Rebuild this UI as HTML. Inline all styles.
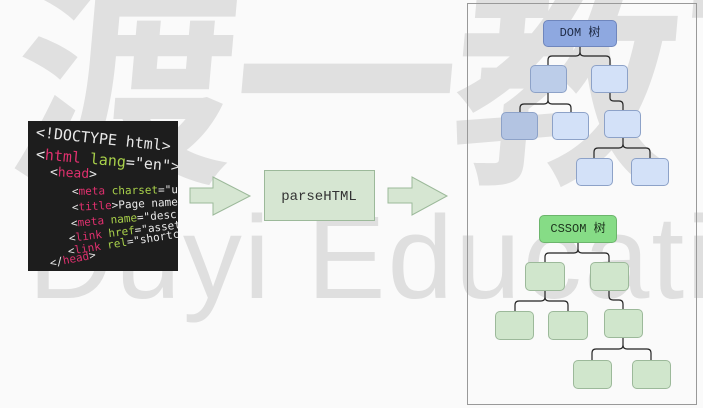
<!DOCTYPE html>
<html><head><meta charset="utf-8"><style>
body{margin:0;width:703px;height:408px;background:#fafafa;position:relative;overflow:hidden;font-family:"Liberation Mono",monospace}
.wm{position:absolute;color:#e0e0e0;font-family:"Liberation Sans","Noto Sans CJK SC",sans-serif;font-weight:bold;white-space:nowrap}
.n{position:absolute;border-radius:5px;box-sizing:border-box}
.b{background:#d3e1f8;border:1px solid #8da2c8}
.g{background:#d0e6cc;border:1px solid #9cb99a}
.code{position:absolute;left:28px;top:121px;width:150px;height:150px;background:#1d1d1d;overflow:hidden;font-family:"DejaVu Sans Mono",monospace}
.code div{position:absolute;white-space:nowrap;transform-origin:left center}
.p{color:#e8e8e8}.r{color:#e0306e}.y{color:#a8d04a}
</style></head><body>
<div style="position:absolute;left:0;top:0;width:703px;height:408px;overflow:hidden">
<div class="wm" style="left:15px;top:-95px;font-size:225px;letter-spacing:-5px;transform:skewX(-5deg)">渡一教育</div>
<div class="wm" style="left:28px;top:190px;font-size:118px;font-weight:normal;color:#dfdfdf;letter-spacing:2px">Duyi Education</div>
</div>

<div class="code">
<div style="left:8px;top:2px;font-size:15px;transform:rotate(6deg)" class="p">&lt;!DOCTYPE html&gt;</div>
<div style="left:8px;top:24px;font-size:15px;transform:rotate(5deg)"><span class="p">&lt;</span><span class="r">html</span> <span class="y">lang</span><span class="p">="en"&gt;</span></div>
<div style="left:22px;top:44px;font-size:13px;transform:rotate(3deg)"><span class="p">&lt;</span><span class="r">head</span><span class="p">&gt;</span></div>
<div style="left:44px;top:64px;font-size:11px;transform:rotate(-1deg)"><span class="p">&lt;</span><span class="r">meta</span> <span class="y">charset</span><span class="p">="utf-8"</span></div>
<div style="left:44px;top:80px;font-size:11px;transform:rotate(-3deg)"><span class="p">&lt;</span><span class="r">title</span><span class="p">&gt;Page name&lt;/</span></div>
<div style="left:43px;top:96px;font-size:11px;transform:rotate(-5deg)"><span class="p">&lt;</span><span class="r">meta</span> <span class="y">name</span><span class="p">="description"</span></div>
<div style="left:41px;top:111px;font-size:11px;transform:rotate(-7deg)"><span class="p">&lt;</span><span class="r">link</span> <span class="y">href</span><span class="p">="assets/</span></div>
<div style="left:40px;top:124px;font-size:11px;transform:rotate(-9deg)"><span class="p">&lt;</span><span class="r">link</span> <span class="y">rel</span><span class="p">="shortcut</span></div>
<div style="left:22px;top:136px;font-size:11px;transform:rotate(-11deg)"><span class="p">&lt;/</span><span class="r">head</span><span class="p">&gt;</span></div>
</div>

<svg width="703" height="408" style="position:absolute;left:0;top:0">
<polygon points="190,188 213,188 213,177 250,196 213,215 213,203 190,203" fill="#d6e6d2" stroke="#9cb99a"/>
<polygon points="388,188 412,188 412,177 447,196 412,215 412,203 388,203" fill="#d6e6d2" stroke="#9cb99a"/>
<rect x="264.5" y="170.5" width="110" height="50" fill="#d6e6d2" stroke="#9cb99a"/>
<text x="319" y="200" font-family="Liberation Mono,monospace" font-size="14" fill="#333" text-anchor="middle">parseHTML</text>
<rect x="467.5" y="3.5" width="229" height="401" fill="none" stroke="#999"/>
<g fill="none" stroke="#222" stroke-width="1.2">
<path d="M580,47 V52 Q580,56 576,56 H552 Q548,56 548,60 V65 M580,52 Q580,56 584,56 H606 Q610,56 610,60 V65"/>
<path d="M548,93 V100 Q548,104 544,104 H524 Q520,104 520,108 V112 M548,100 Q548,104 552,104 H567 Q571,104 571,108 V112"/>
<path d="M610,93 V98 Q610,101 614,101 H619 Q623,101 623,105 V110"/>
<path d="M623,138 V144 Q623,148 619,148 H598 Q594,148 594,152 V158 M623,144 Q623,148 627,148 H646 Q650,148 650,152 V158"/>
<path d="M578,243 V249 Q578,253 574,253 H549 Q545,253 545,257 V262 M578,249 Q578,253 582,253 H605 Q609,253 609,257 V262"/>
<path d="M545,291 V297 Q545,301 541,301 H519 Q515,301 515,305 V311 M545,297 Q545,301 549,301 H564 Q568,301 568,305 V311"/>
<path d="M609,291 V296 Q609,300 613,300 H619 Q623,300 623,304 V309"/>
<path d="M623,338 V345 Q623,349 619,349 H596 Q592,349 592,353 V360 M623,345 Q623,349 627,349 H647 Q651,349 651,353 V360"/>
</g>
</svg>

<div class="n" style="left:543px;top:20px;width:74px;height:27px;background:#8ea8e0;border:1px solid #6f86bd;font-size:12px;line-height:25px;text-align:center;color:#1e2a45;font-family:'Liberation Mono','Noto Sans CJK SC',monospace">DOM 树</div>
<div class="n b" style="left:530px;top:65px;width:37px;height:28px;background:#bccde9"></div>
<div class="n b" style="left:591px;top:65px;width:37px;height:28px"></div>
<div class="n b" style="left:501px;top:112px;width:37px;height:28px;background:#b3c4e2"></div>
<div class="n b" style="left:552px;top:112px;width:37px;height:28px"></div>
<div class="n b" style="left:604px;top:110px;width:37px;height:28px"></div>
<div class="n b" style="left:576px;top:158px;width:37px;height:28px"></div>
<div class="n b" style="left:631px;top:158px;width:38px;height:28px"></div>

<div class="n" style="left:539px;top:215px;width:78px;height:28px;background:#86dc86;border:1px solid #6cb56c;font-size:12px;line-height:26px;text-align:center;color:#1c331c;font-family:'Liberation Mono','Noto Sans CJK SC',monospace">CSSOM 树</div>
<div class="n g" style="left:525px;top:262px;width:40px;height:29px"></div>
<div class="n g" style="left:590px;top:262px;width:39px;height:29px"></div>
<div class="n g" style="left:495px;top:311px;width:39px;height:29px"></div>
<div class="n g" style="left:548px;top:311px;width:40px;height:29px"></div>
<div class="n g" style="left:604px;top:309px;width:39px;height:29px"></div>
<div class="n g" style="left:573px;top:360px;width:39px;height:29px"></div>
<div class="n g" style="left:632px;top:360px;width:39px;height:29px"></div>
</body></html>
